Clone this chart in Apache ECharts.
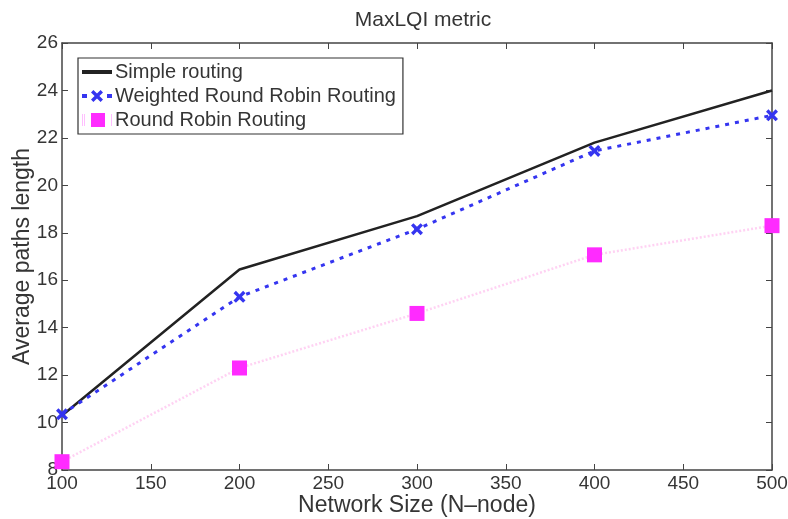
<!DOCTYPE html>
<html>
<head>
    <meta charset="utf-8">
    <title>MaxLQI metric</title>
    <script src="https://cdn.jsdelivr.net/npm/echarts@6/dist/echarts.min.js"></script>
</head>
<body style="margin:0;background:#fff;">
    <div id="chart" style="width:788px;height:519px;"></div>
    <script type="text/javascript">
        var nodes = [100, 200, 300, 400, 500];
        var simpleRouting = [10.3, 16.45, 18.7, 21.8, 24.0];
        var weightedRR = [10.35, 15.3, 18.15, 21.45, 22.95];
        var roundRobin = [8.35, 12.3, 14.6, 17.07, 18.3];

        function pairs(ys) {
            return nodes.map(function (x, i) { return [x, ys[i]]; });
        }

        var textColor = '#353535';
        var axisColor = '#444';
        var font = 'Liberation Sans';
        var xMark = 'path://M0,2 L2,0 L5,3 L8,0 L10,2 L7,5 L10,8 L8,10 L5,7 L2,10 L0,8 L3,5 Z';
        // legend icons drawn like the matlab legend samples
        var iconSolid = 'path://M0,5 H30 V9 H0 Z';
        var iconDotX = 'path://M0,5 H5 V9 H0 Z M25,5 H30 V9 H25 Z M9,3.4 L11.4,1 L15,4.6 L18.6,1 L21,3.4 L17.4,7 L21,10.6 L18.6,13 L15,9.4 L11.4,13 L9,10.6 L12.6,7 Z';
        var iconSquare = 'path://M0,1 H0.3 V13 H0 Z M2,1 H2.3 V13 H2 Z M9,0 H23 V14 H9 Z M29.7,1 H30 V13 H29.7 Z';

        var chart = echarts.init(document.getElementById('chart'));
        var option = {
            backgroundColor: '#fff',
            animation: false,
            title: {
                text: 'MaxLQI metric',
                left: 418, top: 5, textAlign: 'center',
                textStyle: { fontFamily: font, fontSize: 21, fontWeight: 'normal', color: textColor }
            },
            legend: {
                left: 78, top: 58, orient: 'vertical',
                itemWidth: 30, itemHeight: 14, itemGap: 0,
                padding: [2, 7, 2, 4],
                borderColor: '#333', borderWidth: 1.2,
                backgroundColor: '#fff',
                textStyle: { fontFamily: font, fontSize: 20, lineHeight: 24, color: textColor, padding: [0, 0, 0, -2] },
                data: [
                    { name: 'Simple routing', icon: iconSolid, itemStyle: { color: '#222' } },
                    { name: 'Weighted Round Robin Routing', icon: iconDotX, itemStyle: { color: '#3535f0' } },
                    { name: 'Round Robin Routing', icon: iconSquare, itemStyle: { color: '#ff2bff' } }
                ]
            },
            grid: { left: 62, right: 16, top: 43, bottom: 49, containLabel: false, outerBoundsMode: 'none' },
            xAxis: [{
                type: 'value', min: 100, max: 500, interval: 50,
                name: 'Network Size (N\u2013node)', nameLocation: 'middle', nameGap: 24,
                nameMoveOverlap: false,
                nameTextStyle: { fontFamily: font, fontSize: 23, color: textColor },
                axisLine: { lineStyle: { color: axisColor, width: 1.5 } },
                axisTick: { inside: true, length: 6, lineStyle: { color: axisColor } },
                axisLabel: { fontFamily: font, fontSize: 19, color: textColor, margin: 4 },
                splitLine: { show: false }
            }, {
                type: 'value', min: 100, max: 500, interval: 50, position: 'top',
                axisLine: { lineStyle: { color: axisColor, width: 1.5 } },
                axisTick: { inside: true, length: 6, lineStyle: { color: axisColor } },
                axisLabel: { show: false }, splitLine: { show: false }
            }],
            yAxis: [{
                type: 'value', min: 8, max: 26, interval: 2,
                name: 'Average paths length', nameLocation: 'middle', nameGap: 28,
                nameMoveOverlap: false,
                nameTextStyle: { fontFamily: font, fontSize: 23, color: textColor },
                axisLine: { show: true, lineStyle: { color: axisColor, width: 1.5 } },
                axisTick: { show: true, inside: true, length: 6, lineStyle: { color: axisColor } },
                axisLabel: { fontFamily: font, fontSize: 19, color: textColor, margin: 4 },
                splitLine: { show: false }
            }, {
                type: 'value', min: 8, max: 26, interval: 2, position: 'right',
                axisLine: { show: true, lineStyle: { color: axisColor, width: 1.5 } },
                axisTick: { show: true, inside: true, length: 6, lineStyle: { color: axisColor } },
                axisLabel: { show: false }, splitLine: { show: false }
            }],
            series: [{
                name: 'Simple routing', type: 'line', data: pairs(simpleRouting),
                symbol: 'none',
                color: '#222',
                lineStyle: { color: '#222', width: 2.5 }
            }, {
                name: 'Weighted Round Robin Routing', type: 'line', data: pairs(weightedRR),
                symbol: xMark, symbolSize: 12,
                color: '#3535f0',
                itemStyle: { color: '#3535f0' },
                lineStyle: { color: '#3535f0', width: 3, type: [4, 6] }
            }, {
                name: 'Round Robin Routing', type: 'line', data: pairs(roundRobin),
                symbol: 'rect', symbolSize: 15,
                color: '#ff2bff',
                itemStyle: { color: '#ff2bff' },
                lineStyle: { color: '#ffd2f3', width: 2.5, type: [2, 2] },
                z: 1
            }]
        };
        chart.setOption(option);
    </script>
</body>
</html>
